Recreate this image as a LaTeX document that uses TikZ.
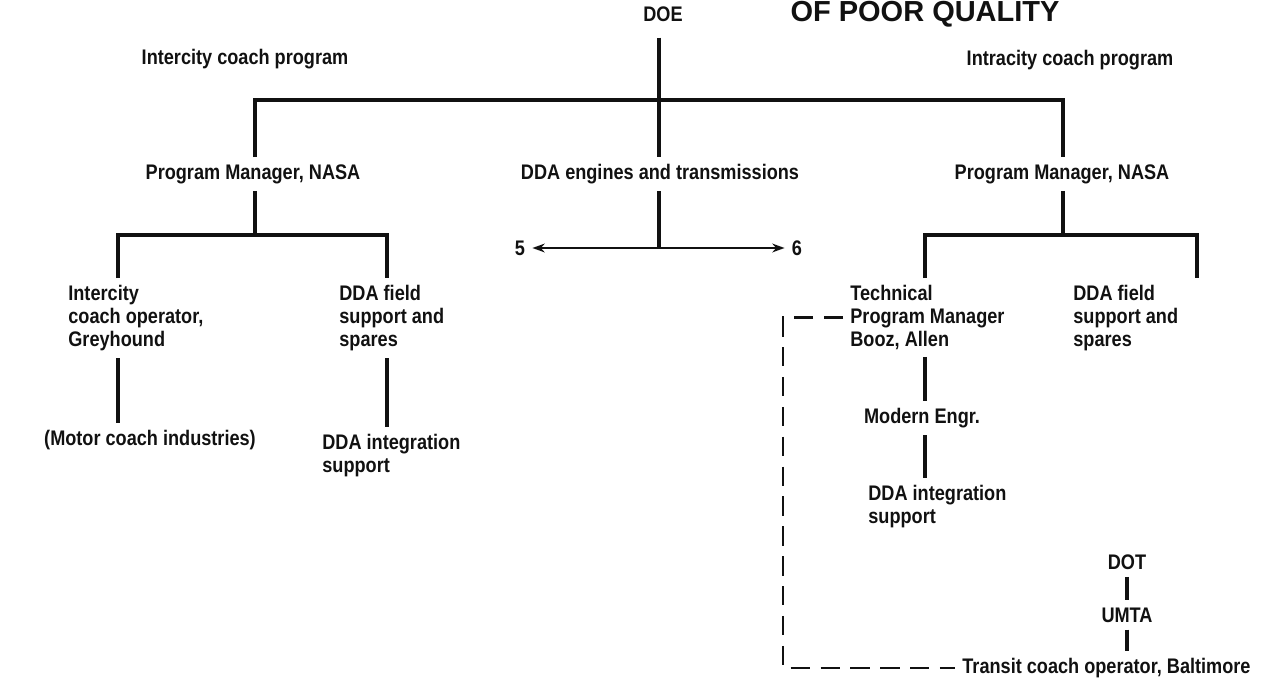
\documentclass[tikz,border=0pt]{standalone}
\usepackage{fontspec}
\setmainfont{Liberation Sans}[FakeStretch=0.86]
\newfontfamily\stampfont{Liberation Sans}
\usepackage{xcolor}
\usepackage{tikz}
\usetikzlibrary{arrows.meta,positioning,calc}
\definecolor{scanblack}{HTML}{111111}
\newcommand{\orgfont}{\fontsize{12}{13}\selectfont\bfseries}

\tikzset{
    lbl/.style={text=scanblack, font=\orgfont, inner sep=4pt},
    blocktxt/.style={lbl, align=left, anchor=north west},
    link/.style={draw=scanblack, line width=2pt},
    thinlink/.style={draw=scanblack, line width=1.3pt, -{Stealth[length=7pt,width=5pt]}},
    dashlink/.style={draw=scanblack, line width=1.6pt, dash pattern=on 11pt off 6pt}
}

\begin{document}
\begin{tikzpicture}[x=0.02cm, y=-0.02cm]
    \useasboundingbox (0,0) rectangle (1268,683);

    % top of the chart
    \node[text=scanblack, font=\stampfont\fontsize{16.5}{18}\selectfont\bfseries, anchor=base] (stamp) at (925,21) {OF POOR QUALITY};
    \node[lbl] (doe) at (663,14) {DOE};
    \node[lbl] (intercity) at (245,59) {Intercity coach program};
    \node[lbl] (intracity) at (1070,60) {Intracity coach program};
    \node[lbl] (pmL) at (253,174) {Program Manager, NASA};
    \node[lbl] (engines) at (660,174) {DDA engines and transmissions};
    \node[lbl] (pmR) at (1062,174) {Program Manager, NASA};
    \node[lbl] (five) at (520,248) {5};
    \node[lbl] (six) at (797,248) {6};

    % intercity side
    \node[blocktxt] (icop) at (61,278) {Intercity\\coach operator,\\Greyhound};
    \node[blocktxt] (ddafL) at (332,278) {DDA field\\support and\\spares};
    \node[lbl] (motor) at (150,440) {(Motor coach industries)};
    \node[blocktxt] (integL) at (315,427) {DDA integration\\support};

    % intracity side
    \node[blocktxt] (tpm) at (843,278) {Technical\\Program Manager\\Booz, Allen};
    \node[blocktxt] (ddafR) at (1066,278) {DDA field\\support and\\spares};
    \node[lbl] (modern) at (922,418) {Modern Engr.};
    \node[blocktxt] (integR) at (861,478) {DDA integration\\support};
    \node[lbl] (dot) at (1127,562) {DOT};
    \node[lbl] (umta) at (1127,615) {UMTA};
    \node[lbl, anchor=west] (transit) at (955,668) {Transit coach operator, Baltimore};

    \coordinate (hub) at (659,100);
    \coordinate (hubL) at (255,235);
    \coordinate (hubR) at (1063,235);
    \coordinate (split) at (659,248);
    \coordinate (corner) at (783,668);

    \draw[link, shorten <=5pt] (doe.south -| hub) -- (engines.north -| hub);
    \draw[link] (pmL.north -| hubL) |- (hub) -| (pmR.north -| hubR);
    \draw[link] (engines.south -| split) -- (split);
    \draw[thinlink] (split) -- (five);
    \draw[thinlink] (split) -- (six);

    \draw[link] (pmL.south -| hubL) -- (hubL);
    \draw[link] (icop.north -| 118,0) |- (hubL) -| (ddafL.north -| 387,0);
    \draw[link] (icop.south -| 118,0) -- (motor.north -| 118,0);
    \draw[link] (ddafL.south -| 387,0) -- (integL.north -| 387,0);

    \draw[link] (pmR.south -| hubR) -- (hubR);
    \draw[link] (tpm.north -| 925,0) |- (hubR) -| (ddafR.north -| 1197,0);
    \draw[link] (tpm.south -| 925,0) -- (modern.north -| 925,0);
    \draw[link] (modern.south -| 925,0) -- (integR.north -| 925,0);
    \draw[link] (dot) -- (umta);
    \draw[link] (umta) -- (transit.north -| umta);
    \draw[dashlink] (tpm.west) -| (corner) -- (transit.west);
\end{tikzpicture}
\end{document}
